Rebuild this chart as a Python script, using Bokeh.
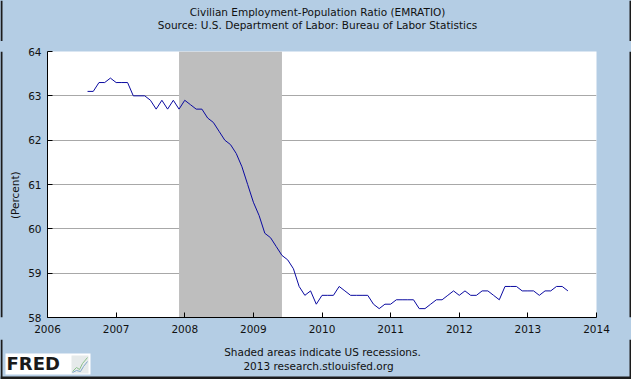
import math
from bokeh.plotting import figure
from bokeh.layouts import column, row
from bokeh.models import FixedTicker, Range1d
from bokeh.core.properties import value
from bokeh.embed import file_html
from bokeh.resources import INLINE

# ---------------- data ----------------
title_line1 = "Civilian Employment-Population Ratio (EMRATIO)"
title_line2 = "Source: U.S. Department of Labor: Bureau of Labor Statistics"
footer_line1 = "Shaded areas indicate US recessions."
footer_line2 = "2013 research.stlouisfed.org"
y_axis_label = "(Percent)"
logo_text = "FRED"

start_year = 2006
start_month = 8  # Aug 2006, monthly through Aug 2013
emratio = [
    63.1, 63.1, 63.3, 63.3, 63.4,                                            # 2006 Aug-Dec
    63.3, 63.3, 63.3, 63.0, 63.0, 63.0, 62.9, 62.7, 62.9, 62.7, 62.9, 62.7,  # 2007
    62.9, 62.8, 62.7, 62.7, 62.5, 62.4, 62.2, 62.0, 61.9, 61.7, 61.4, 61.0,  # 2008
    60.6, 60.3, 59.9, 59.8, 59.6, 59.4, 59.3, 59.1, 58.7, 58.5, 58.6, 58.3,  # 2009
    58.5, 58.5, 58.5, 58.7, 58.6, 58.5, 58.5, 58.5, 58.5, 58.3, 58.2, 58.3,  # 2010
    58.3, 58.4, 58.4, 58.4, 58.4, 58.2, 58.2, 58.3, 58.4, 58.4, 58.5, 58.6,  # 2011
    58.5, 58.6, 58.5, 58.5, 58.6, 58.6, 58.5, 58.4, 58.7, 58.7, 58.7, 58.6,  # 2012
    58.6, 58.6, 58.5, 58.6, 58.6, 58.7, 58.7, 58.6,                          # 2013 Jan-Aug
]
x_tick_years = [2006, 2007, 2008, 2009, 2010, 2011, 2012, 2013, 2014]
y_tick_values = [58, 59, 60, 61, 62, 63, 64]
y_grid_values = [59, 60, 61, 62, 63]
recession_start = [2007 + 11 / 12]  # Dec 2007
recession_end = [2009 + 5 / 12]     # Jun 2009

dates = [start_year + (start_month - 1 + i) / 12 for i in range(len(emratio))]

# ---------------- style ----------------
FONT = "DejaVu Sans"
BG = "#B4CDE4"
EDGE = "#1C1C1C"
TXT = "#111111"
FS = "10.5px"
W, H = 631, 379
HEAD_H, FOOT_H = 41, 40
LEFT_W, RIGHT_W = 24, 19
MAIN_W, MAIN_H = W - LEFT_W - RIGHT_W, H - HEAD_H - FOOT_H


def panel(w, h):
    """A plain light-blue strip whose data space equals its pixel space (y down)."""
    f = figure(width=w, height=h, x_range=Range1d(0, w), y_range=Range1d(h, 0),
               x_axis_type=None, y_axis_type=None, output_backend="svg",
               toolbar_location=None, min_border=0,
               background_fill_color=BG, border_fill_color=BG)
    f.outline_line_color = None
    f.grid.visible = False
    return f


def edges(f, w, h, left=False, right=False, bottom=False):
    if left:
        f.quad(left=[0], right=[2], top=[0], bottom=[h], fill_color=EDGE, line_color=None)
    if right:
        f.quad(left=[w - 2], right=[w], top=[0], bottom=[h], fill_color=EDGE, line_color=None)
    if bottom:
        f.quad(left=[0], right=[w], top=[h - 3], bottom=[h], fill_color=EDGE, line_color=None)


# header
head = panel(W, HEAD_H)
head.text(x=[317, 317], y=[11.5, 24], text=[title_line1, title_line2],
          text_font=value(FONT), text_font_size=value(FS), text_color=TXT,
          text_align="center", text_baseline="middle")
edges(head, W, HEAD_H, left=True, right=True)

# left strip with the axis title
strip_l = panel(LEFT_W, MAIN_H)
strip_l.text(x=[14.5], y=[202 - HEAD_H], text=[y_axis_label], angle=math.pi / 2,
             text_font=value(FONT), text_font_size=value(FS), text_color=TXT,
             text_align="center", text_baseline="middle")
edges(strip_l, LEFT_W, MAIN_H, left=True)

# right strip
strip_r = panel(RIGHT_W, MAIN_H)
edges(strip_r, RIGHT_W, MAIN_H, right=True)

# main chart
p = figure(width=MAIN_W, height=MAIN_H,
           x_range=Range1d(x_tick_years[0], x_tick_years[-1]),
           y_range=Range1d(y_tick_values[0], y_tick_values[-1]),
           output_backend="svg", toolbar_location=None,
           min_border_left=47 - LEFT_W, min_border_right=16,
           min_border_top=10, min_border_bottom=22,
           background_fill_color="white", border_fill_color=BG)
p.outline_line_color = None

for ax in (p.xaxis[0], p.yaxis[0]):
    ax.axis_line_color = "black"
    ax.axis_line_width = 1
    ax.major_tick_in = 5
    ax.major_tick_out = 0
    ax.minor_tick_in = 0
    ax.minor_tick_out = 0
    ax.major_tick_line_color = "black"
    ax.major_label_text_font = FONT
    ax.major_label_text_font_size = FS
    ax.major_label_text_color = TXT

p.xaxis.ticker = FixedTicker(ticks=x_tick_years)
p.yaxis.ticker = FixedTicker(ticks=y_tick_values)
p.xaxis.major_label_standoff = 7
p.yaxis.major_label_standoff = 6

p.xgrid.visible = False
p.ygrid.ticker = FixedTicker(ticks=y_grid_values)
p.ygrid.grid_line_color = "#A8A8A8"
p.ygrid.grid_line_width = 1

p.quad(left=recession_start, right=recession_end,
       bottom=[y_tick_values[0]], top=[y_tick_values[-1]],
       fill_color="#BEBEBE", line_color=None)
p.line(dates, emratio, line_color="#0A0AA0", line_width=1)

# footer
foot = panel(W, FOOT_H)
foot.text(x=[322, 318], y=[12, 26.5], text=[footer_line1, footer_line2],
          text_font=value(FONT), text_font_size=value(FS), text_color=TXT,
          text_align="center", text_baseline="middle")
# FRED logo
foot.quad(left=[5], right=[90], top=[14], bottom=[35], fill_color="white", line_color=None)
foot.quad(left=[71], right=[88], top=[16], bottom=[34], fill_color="#E6EAEA", line_color=None)
foot.line(x=[72, 76, 79, 82, 87], y=[32, 28, 30, 24, 18], line_color="#8CC08C", line_width=1)
foot.line(x=[72, 76, 80, 83, 87], y=[33, 31, 32, 27, 22], line_color="#7FA6C8", line_width=1)
foot.text(x=[6], y=[24.3], text=[logo_text], text_font=value(FONT),
          text_font_size=value("18px"), text_font_style="bold", text_color="#1A1A1A",
          text_align="left", text_baseline="middle")
edges(foot, W, FOOT_H, left=True, right=True, bottom=True)

mid = row(strip_l, p, strip_r, spacing=0, styles={"background-color": BG})
layout = column(head, mid, foot, spacing=0, styles={"background-color": BG})
open("out.html", "w").write(file_html(layout, INLINE))
